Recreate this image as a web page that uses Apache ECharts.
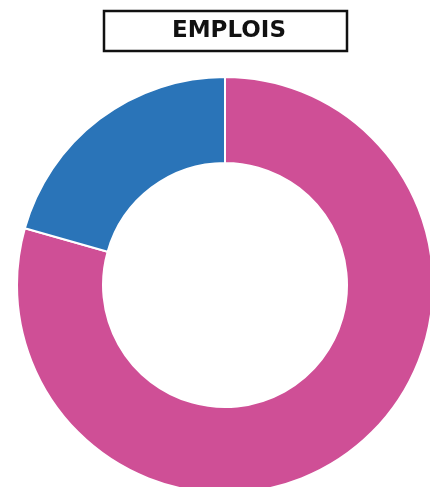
<!DOCTYPE html>
<html>
<head>
<meta charset="utf-8">
<script src="https://cdn.jsdelivr.net/npm/echarts@6/dist/echarts.min.js"></script>
<style>
  html, body { margin: 0; padding: 0; background: #fff; }
  #chart { width: 430px; height: 487px; }
</style>
</head>
<body>
<div id="chart"></div>
<script>
// EMPLOIS — donut à deux parts
const TITLE = "EMPLOIS";
const CATEGORIES = ["Part A", "Part B"];
const VALUES = [79.4, 20.6];
const COLORS = ["#cf4f96", "#2a74b8"];

const chart = echarts.init(document.getElementById("chart"));

chart.setOption({
  backgroundColor: "#fff",
  animation: false,
  graphic: [
    {
      type: "rect",
      shape: { x: 104, y: 11, width: 243, height: 40 },
      style: { fill: "#fff", stroke: "#111", lineWidth: 2.5 },
    },
    {
      type: "text",
      x: 229, y: 31,
      style: {
        text: TITLE, fill: "#111",
        font: "bold 23px 'DejaVu Sans', sans-serif",
        align: "center", verticalAlign: "middle",
      },
    },
  ],
  series: [{
    type: "pie",
    center: [225, 285],
    radius: [122, 208],
    startAngle: 90,
    clockwise: true,
    silent: true,
    label: { show: false },
    labelLine: { show: false },
    itemStyle: { borderColor: "#fff", borderWidth: 2 },
    data: CATEGORIES.map((c, i) => ({
      name: c, value: VALUES[i], itemStyle: { color: COLORS[i] },
    })),
  }],
});
</script>
</body>
</html>
